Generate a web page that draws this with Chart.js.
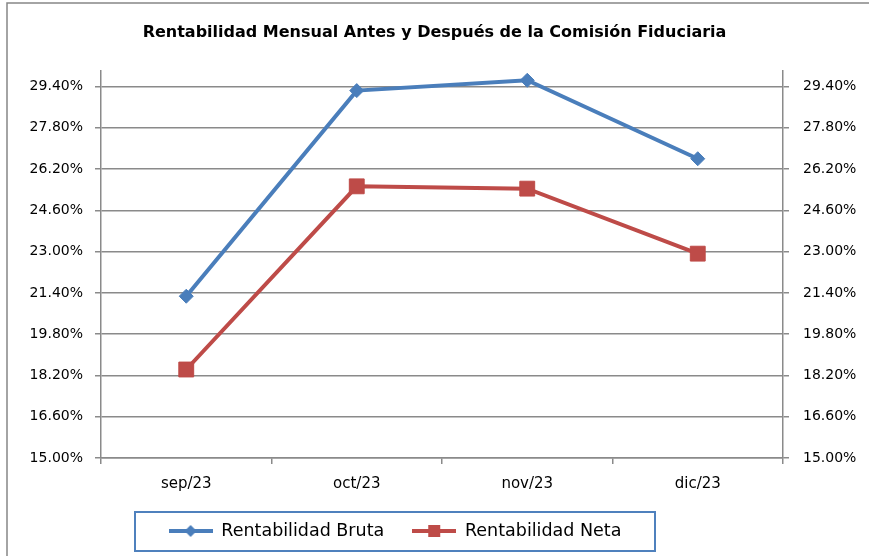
<!DOCTYPE html>
<html>
<head>
<meta charset="utf-8">
<script src="https://cdn.jsdelivr.net/npm/chart.js@4.4.1/dist/chart.umd.min.js"></script>
<style>
  body { margin: 0; background: #fff; overflow: hidden; }
  #wrap { width: 869px; height: 556px; }
</style>
</head>
<body>
<div id="wrap"><canvas id="myChart" width="869" height="556"></canvas></div>
<script>
const months = ["sep/23", "oct/23", "nov/23", "dic/23"];
const bruta = [21.27, 29.24, 29.64, 26.60];
const neta = [18.43, 25.53, 25.44, 22.92];
const yTicks = [15.00, 16.60, 18.20, 19.80, 21.40, 23.00, 24.60, 26.20, 27.80, 29.40];
const yMin = 15;
const yMax = 30;

const blue = "#4A7EBB";
const red = "#BE4B48";
const gray = "#8A8A8A";
const font = "'DejaVu Sans', sans-serif";

// simbolo de la leyenda: linea con marcador
function legendSymbol(color, shape) {
    const c = document.createElement("canvas");
    c.width = 44;
    c.height = 16;
    const g = c.getContext("2d");
    g.strokeStyle = color;
    g.fillStyle = color;
    g.lineWidth = 4;
    g.beginPath();
    g.moveTo(0, 8);
    g.lineTo(44, 8);
    g.stroke();
    g.beginPath();
    if (shape === "diamond") {
        g.moveTo(22, 2); g.lineTo(28, 8); g.lineTo(22, 14); g.lineTo(16, 8);
    } else {
        g.rect(16, 2, 12, 12);
    }
    g.closePath();
    g.fill();
    return c;
}

const symbols = [legendSymbol(blue, "diamond"), legendSymbol(red, "square")];

const frame = {
    id: "frame",
    afterLayout(chart) {
        // mover la leyenda dentro de su recuadro
        chart.legend.left = 135;
        chart.legend.right = 655;
    },
    beforeDraw(chart) {
        const g = chart.ctx;
        g.save();
        g.strokeStyle = "#868686";
        g.lineWidth = 1.5;
        g.beginPath();
        g.moveTo(7, 560);
        g.lineTo(7, 3);
        g.lineTo(869, 3);
        g.stroke();
        g.restore();
    },
    afterDraw(chart) {
        const g = chart.ctx;
        const lg = chart.legend;
        g.save();
        g.strokeStyle = "#4F81BD";
        g.lineWidth = 2;
        g.strokeRect(lg.left, lg.top + 17.75, lg.right - lg.left, 39);
        g.restore();
    }
};

function yAxis(position, width) {
    return {
        type: "linear",
        position: position,
        min: yMin,
        max: yMax,
        afterBuildTicks: axis => { axis.ticks = yTicks.map(v => ({ value: v })); },
        afterFit: axis => { axis.width = width; },
        border: { display: true, color: gray, width: 1.5 },
        grid: {
            display: true,
            drawOnChartArea: position === "left",
            color: gray,
            lineWidth: 1.5,
            tickLength: 6
        },
        ticks: {
            padding: position === "left" ? 12 : 14,
            color: "#000",
            font: { family: font, size: 14 },
            callback: v => v.toFixed(2) + "%"
        }
    };
}

new Chart(document.getElementById("myChart"), {
    type: "line",
    data: {
        labels: months,
        datasets: [{
            label: "Rentabilidad Bruta",
            data: bruta,
            borderColor: blue,
            backgroundColor: blue,
            borderWidth: 4,
            pointStyle: "rectRot",
            pointRadius: 7,
            pointBorderWidth: 1,
            tension: 0,
            yAxisID: "y"
        }, {
            label: "Rentabilidad Neta",
            data: neta,
            borderColor: red,
            backgroundColor: red,
            borderWidth: 4,
            pointStyle: "rect",
            pointRadius: 10.5,
            pointBorderWidth: 1,
            tension: 0,
            yAxisID: "y"
        }]
    },
    options: {
        responsive: false,
        animation: false,
        layout: { padding: { left: 0, right: 0, top: 0, bottom: 6.25 } },
        scales: {
            x: {
                offset: true,
                afterFit: axis => { axis.height = 36.25; },
                border: { display: true, color: gray, width: 1.5 },
                grid: { display: true, drawOnChartArea: false, color: gray, lineWidth: 1.5, tickLength: 6, offset: true },
                ticks: { padding: 11, color: "#000", font: { family: font, size: 15 } }
            },
            y: yAxis("left", 101),
            y2: yAxis("right", 86)
        },
        plugins: {
            title: {
                display: true,
                text: "Rentabilidad Mensual Antes y Después de la Comisión Fiduciaria",
                color: "#000",
                font: { family: font, size: 16, weight: "bold" },
                padding: { top: 23.4, bottom: 28.4 }
            },
            legend: {
                position: "bottom",
                labels: {
                    usePointStyle: true,
                    pointStyleWidth: 44,
                    padding: 28,
                    color: "#000",
                    font: { family: font, size: 17.5 },
                    generateLabels: chart => chart.data.datasets.map((ds, i) => ({
                        text: ds.label,
                        pointStyle: symbols[i],
                        fillStyle: ds.borderColor,
                        strokeStyle: ds.borderColor,
                        lineWidth: 0,
                        datasetIndex: i
                    }))
                }
            },
            tooltip: { enabled: false }
        }
    },
    plugins: [frame]
});
</script>
</body>
</html>
